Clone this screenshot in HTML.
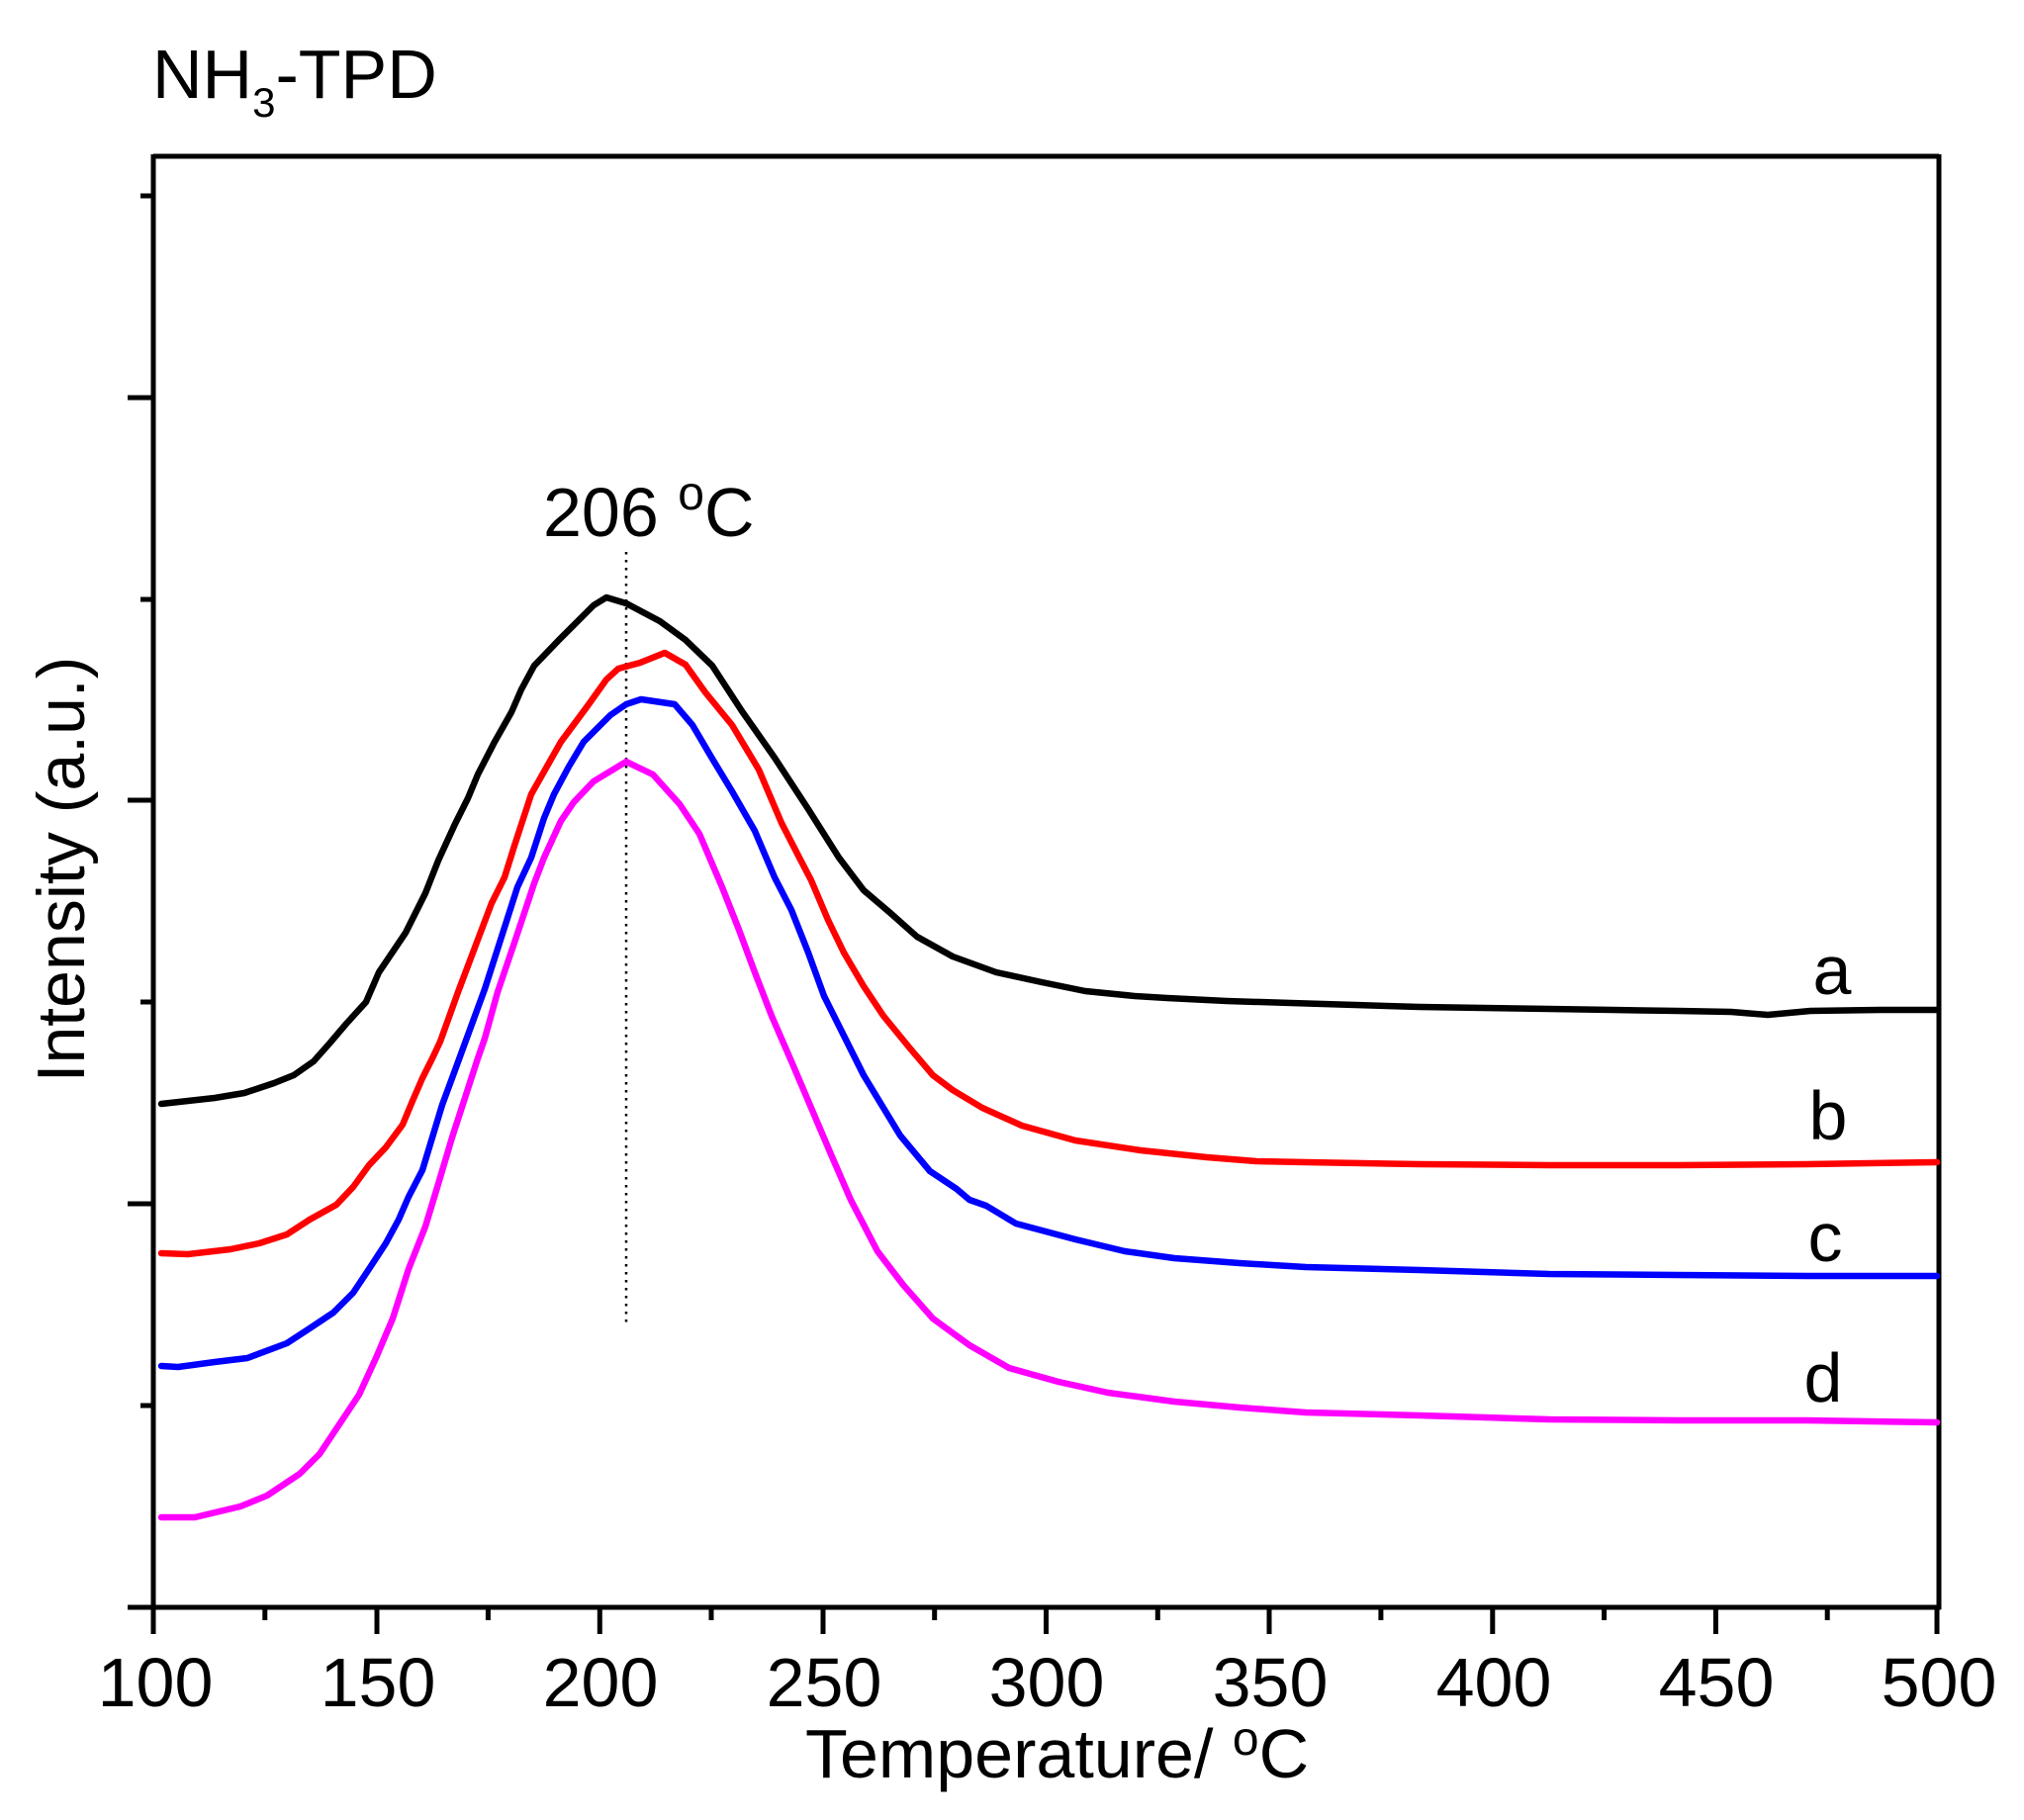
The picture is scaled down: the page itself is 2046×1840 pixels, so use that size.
<!DOCTYPE html>
<html>
<head>
<meta charset="utf-8">
<style>
  html,body{margin:0;padding:0;background:#fff;}
  svg{display:block;}
  text{font-family:"Liberation Sans",Arial,sans-serif;fill:#000;}
</style>
</head>
<body>
<svg width="2046" height="1840" viewBox="0 0 2046 1840" xmlns="http://www.w3.org/2000/svg">
  <rect width="2046" height="1840" fill="#fff"/>

  <!-- Title -->
  <text x="154" y="99" font-size="70">NH<tspan font-size="42" dy="19">3</tspan><tspan dy="-19">-TPD</tspan></text>

  <!-- Frame -->
  <g stroke="#000" stroke-width="5" fill="none" stroke-linecap="butt">
    <line x1="155" y1="158" x2="1960" y2="158"/>
    <line x1="1960" y1="156" x2="1960" y2="1627"/>
    <line x1="155" y1="156" x2="155" y2="1627"/>
    <line x1="129" y1="1625" x2="1962" y2="1625"/>
  </g>

  <!-- X ticks -->
  <g stroke="#000" stroke-width="5">
    <line x1="155" y1="1625" x2="155" y2="1652"/>
    <line x1="381" y1="1625" x2="381" y2="1652"/>
    <line x1="606.3" y1="1625" x2="606.3" y2="1652"/>
    <line x1="832" y1="1625" x2="832" y2="1652"/>
    <line x1="1057.5" y1="1625" x2="1057.5" y2="1652"/>
    <line x1="1283" y1="1625" x2="1283" y2="1652"/>
    <line x1="1508.8" y1="1625" x2="1508.8" y2="1652"/>
    <line x1="1734.4" y1="1625" x2="1734.4" y2="1652"/>
    <line x1="1958" y1="1625" x2="1958" y2="1652"/>
    <line x1="267.8" y1="1625" x2="267.8" y2="1638"/>
    <line x1="493.4" y1="1625" x2="493.4" y2="1638"/>
    <line x1="719" y1="1625" x2="719" y2="1638"/>
    <line x1="944.7" y1="1625" x2="944.7" y2="1638"/>
    <line x1="1170.3" y1="1625" x2="1170.3" y2="1638"/>
    <line x1="1395.9" y1="1625" x2="1395.9" y2="1638"/>
    <line x1="1621.6" y1="1625" x2="1621.6" y2="1638"/>
    <line x1="1847.2" y1="1625" x2="1847.2" y2="1638"/>
  </g>

  <!-- Y ticks -->
  <g stroke="#000" stroke-width="5">
    <line x1="129" y1="1217" x2="155" y2="1217"/>
    <line x1="129" y1="809" x2="155" y2="809"/>
    <line x1="129" y1="402" x2="155" y2="402"/>
    <line x1="142" y1="1421" x2="155" y2="1421"/>
    <line x1="142" y1="1013" x2="155" y2="1013"/>
    <line x1="142" y1="606" x2="155" y2="606"/>
    <line x1="142" y1="198" x2="155" y2="198"/>
  </g>

  <!-- X tick labels -->
  <g font-size="70" text-anchor="middle">
    <text x="157" y="1725">100</text>
    <text x="382" y="1725">150</text>
    <text x="607" y="1725">200</text>
    <text x="833" y="1725">250</text>
    <text x="1058" y="1725">300</text>
    <text x="1284" y="1725">350</text>
    <text x="1510" y="1725">400</text>
    <text x="1735" y="1725">450</text>
    <text x="1960" y="1725">500</text>
  </g>

  <!-- Axis titles -->
  <text x="814" y="1797" font-size="70">Temperature/ <tspan font-size="48" dy="-23">o</tspan><tspan dy="23">C</tspan></text>
  <text transform="translate(85,879) rotate(-90)" font-size="68" text-anchor="middle">Intensity (a.u.)</text>

  <!-- Annotation -->
  <text x="549" y="542" font-size="70">206 <tspan font-size="48" dy="-27">o</tspan><tspan dy="27">C</tspan></text>
  <line x1="633" y1="558" x2="633" y2="1342" stroke="#000" stroke-width="2.5" stroke-dasharray="2.5 5.5"/>

  <!-- Curves -->
  <g fill="none" stroke-width="6.5" stroke-linejoin="round" stroke-linecap="round">
    <polyline stroke="#000000" points="163,1116 190,1113 217,1110 247,1105 277,1095 297,1087 317,1073 333,1055 350,1035 370,1013 383,983 410,943 430,903 443,870 460,833 473,807 483,783 500,750 517,720 527,697 540,673 565,647 590,622 600,612 613,604 633,610 667,628 693,647 720,673 750,719 783,766 817,818 848,867 873,900 900,923 927,947 963,967 1007,983 1053,993 1097,1002 1147,1007 1180,1009 1240,1012 1305,1014 1370,1016 1435,1018 1500,1019 1566,1020 1630,1021 1696,1022 1750,1023 1787,1026 1830,1022 1900,1021 1958,1021"/>
    <polyline stroke="#ff0000" points="163,1267 190,1268 233,1263 262,1257 290,1248 313,1233 340,1218 357,1200 373,1178 390,1160 407,1137 417,1113 427,1090 437,1070 445,1053 463,1003 483,950 497,913 510,887 520,855 537,803 550,780 567,750 593,715 613,687 625,676 647,670 672,660 693,672 713,700 740,733 767,778 790,832 808,867 820,890 837,930 853,963 873,997 893,1027 920,1060 943,1087 963,1102 993,1120 1033,1138 1087,1153 1153,1163 1220,1170 1270,1174 1320,1175 1435,1177 1566,1178 1696,1178 1827,1177 1958,1175"/>
    <polyline stroke="#0000ff" points="163,1381 180,1382 217,1377 250,1373 290,1358 313,1343 337,1327 357,1307 373,1283 390,1257 403,1233 413,1210 427,1183 437,1150 447,1117 457,1090 468,1060 490,1000 507,947 523,897 537,867 550,827 560,803 575,775 590,750 617,723 633,712 648,707 682,712 700,733 720,767 740,800 763,840 783,887 800,920 817,963 833,1007 853,1047 873,1087 893,1120 910,1148 940,1184 967,1202 980,1213 997,1219 1027,1237 1087,1253 1137,1265 1187,1272 1253,1277 1320,1281 1435,1284 1566,1288 1696,1289 1827,1290 1958,1290"/>
    <polyline stroke="#ff00ff" points="163,1534 197,1534 243,1523 270,1512 303,1490 323,1470 343,1440 363,1410 380,1373 397,1333 413,1283 430,1240 443,1197 457,1150 470,1110 483,1070 490,1050 503,1003 520,953 540,893 550,867 567,830 580,811 600,790 633,770 660,783 687,813 707,843 730,897 747,940 763,983 780,1027 800,1073 820,1120 840,1167 860,1213 887,1265 913,1299 943,1333 980,1360 1020,1383 1070,1397 1120,1408 1187,1417 1253,1423 1320,1428 1435,1431 1566,1435 1696,1436 1827,1436 1958,1438"/>
  </g>

  <!-- Curve labels -->
  <g font-size="70" text-anchor="middle">
    <text x="1852" y="1005">a</text>
    <text x="1848" y="1152">b</text>
    <text x="1845" y="1275">c</text>
    <text x="1843" y="1417">d</text>
  </g>
</svg>
</body>
</html>
